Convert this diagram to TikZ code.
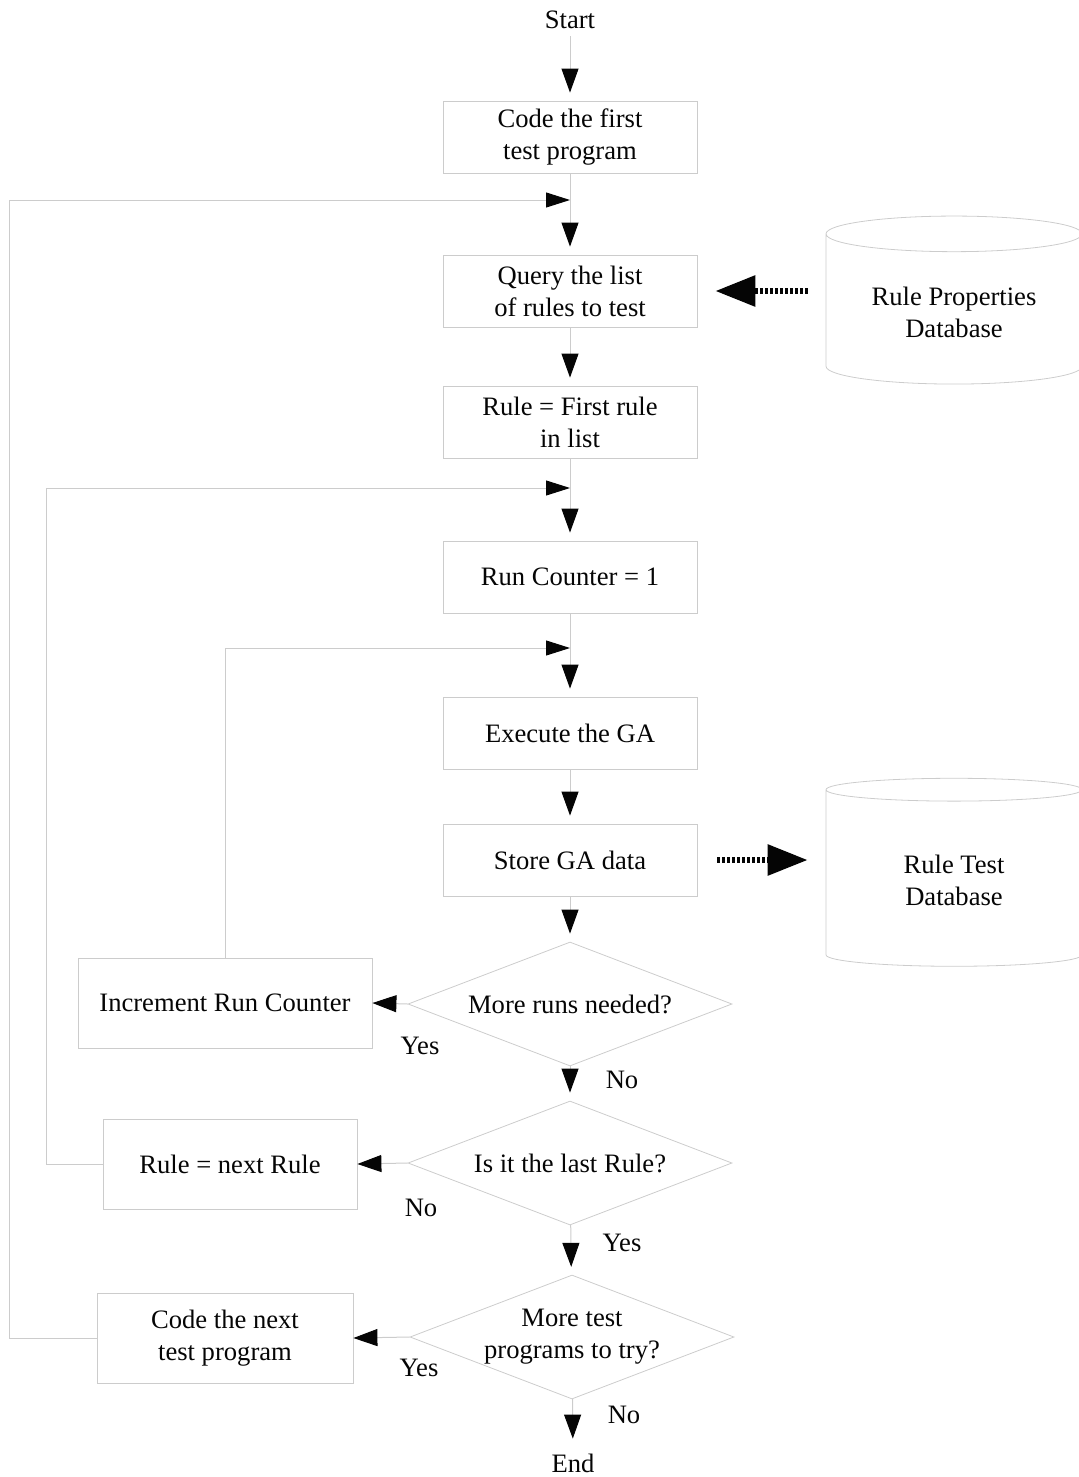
\documentclass[tikz,border=0pt]{standalone}
\usepackage{fontspec}
\setmainfont{Liberation Serif}
\usetikzlibrary{arrows.meta, positioning, shapes.geometric}
\definecolor{faded}{gray}{0.8}
\definecolor{ink}{gray}{0.02}

\begin{document}
\begin{tikzpicture}[x=0.5pt, y=-0.5pt,
  font=\fontsize{13.3}{16}\selectfont,
  every node/.style={text=ink, align=center},
  stepbox/.style={draw=faded, line width=0.4pt, minimum width=127pt, minimum height=36pt, inner sep=2pt},
  sidebox/.style={draw=faded, line width=0.4pt, minimum height=45pt, inner sep=2pt},
  decision/.style={diamond, aspect=2.6, draw=faded, line width=0.4pt, minimum width=162pt, minimum height=62pt, inner sep=0pt},
  dbase/.style={cylinder, shape border rotate=90, aspect=0.2, draw=faded, line width=0.4pt, minimum width=128pt},
  flow/.style={draw=faded, line width=0.5pt, shorten >=4pt, -{Triangle[length=12pt, width=8.5pt, color=ink]}},
  loopback/.style={draw=faded, line width=0.5pt, -{Triangle[length=12pt, width=7.5pt, color=ink]}},
  dataflow/.style={draw=ink, line width=3pt, dash pattern=on 1.2pt off 1.3pt, -{Triangle[length=20pt, width=15pt]}},
  tag/.style={inner sep=1pt}]

% Canvas
\useasboundingbox (0,0) rectangle (1078,1477);

% Main column
\node (start) at (570,20) {Start};
\node[stepbox] (code1) at (570,137) {Code the first\\test program};
\node[stepbox] (query) at (570,291) {Query the list\\of rules to test};
\node[stepbox] (rule1) at (570,422) {Rule = First rule\\in list};
\node[stepbox] (runset) at (570,577) {Run Counter = 1};
\node[stepbox] (exec) at (570,733) {Execute the GA};
\node[stepbox] (store) at (570,860) {Store GA data};
\node[decision] (moreruns) at (570,1004) {More runs needed?};
\node[decision] (lastrule) at (570,1163) {Is it the last Rule?};
\node[decision] (moreprog) at (572,1337) {More test\\programs to try?};
\node (finish) at (573,1463) {End};

% Side boxes
\node[sidebox, minimum width=147pt] (incrun) at (225,1003) {Increment Run Counter};
\node[sidebox, minimum width=127pt] (nextrule) at (230,1164) {Rule = next Rule};
\node[sidebox, minimum width=128pt] (code2) at (225,1338) {Code the next\\test program};

% Databases
\node[dbase, minimum height=84pt] (ruleprop) at (954,312) {Rule Properties\\Database};
\node[dbase, minimum height=94pt] (ruletest) at (954,880) {Rule Test\\Database};

% Where the loops come back in
\coordinate (joinC) at (570,200);
\coordinate (joinB) at (570,488);
\coordinate (joinA) at (570,648);

% Main flow
\draw[flow] (start) -- (code1);
\draw[flow] (code1) -- (query);
\draw[flow] (query) -- (rule1);
\draw[flow] (rule1) -- (runset);
\draw[flow] (runset) -- (exec);
\draw[flow] (exec) -- (store);
\draw[flow] (store) -- (moreruns);
\draw[flow] (moreruns) -- (lastrule);
\draw[flow] (lastrule) -- (moreprog);
\draw[flow] (moreprog) -- (finish);

% Decisions to the left
\draw[flow, shorten >=0pt] (moreruns.west) -- (incrun.east);
\draw[flow, shorten >=0pt] (lastrule.west) -- (nextrule.east);
\draw[flow, shorten >=0pt] (moreprog.west) -- (code2.east);

% Loops back up
\draw[loopback] (incrun.north) |- (joinA);
\draw[loopback] (nextrule.west) -- ++(-56,0) |- (joinB);
\draw[loopback] (code2.west) -- ++(-87,0) |- (joinC);

% Database links
\draw[dataflow, shorten <=9pt, shorten >=9pt] (query.east -| ruleprop.west) -- (query.east);
\draw[dataflow, shorten <=10pt, shorten >=9pt] (store.east) -- (store.east -| ruletest.west);

% Yes / No
\node[tag] (yes1) at (420,1046) {Yes};
\node[tag] (no1) at (622,1080) {No};
\node[tag] (no2) at (421,1208) {No};
\node[tag] (yes2) at (622,1243) {Yes};
\node[tag] (yes3) at (419,1368) {Yes};
\node[tag] (no3) at (624,1415) {No};

\end{tikzpicture}
\end{document}
